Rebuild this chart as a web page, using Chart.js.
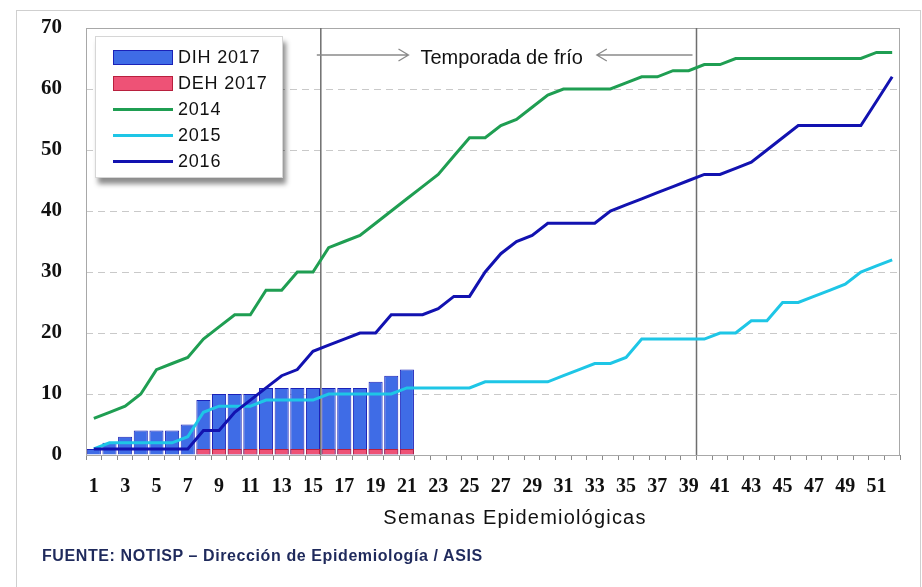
<!DOCTYPE html>
<html lang="es">
<head>
<meta charset="utf-8">
<title>Semanas Epidemiológicas</title>
<script src="https://cdn.jsdelivr.net/npm/chart.js@4.4.1/dist/chart.umd.min.js"></script>
<style>
  body { margin: 0; background: #fff; }
  #wrap { position: relative; width: 922px; height: 587px; overflow: hidden; }
  #marco { position: absolute; left: 16px; top: 10px; width: 903px; height: 600px; border: 1px solid #cfcfcf; }
  #leyenda {
    position: absolute; left: 95px; top: 36px; width: 186px; height: 140px;
    background: #fff; border: 1px solid #d6d6d6;
    box-shadow: 3px 6px 5px rgba(0, 0, 0, 0.45);
  }
  .fila { position: absolute; left: 17px; height: 26px; display: flex; align-items: center; }
  .muestra { width: 60px; margin-right: 5px; box-sizing: border-box; }
  .fila span { font: 18px "Liberation Sans", Arial, sans-serif; letter-spacing: 0.8px; color: #111; }
  #tituloX {
    position: absolute; left: 0; width: 1030px; top: 506px; text-align: center;
    font: 20px "Liberation Sans", Arial, sans-serif; letter-spacing: 1.2px; color: #111;
  }
  #fuente {
    position: absolute; left: 42px; top: 547px;
    font: bold 16px "Liberation Sans", Arial, sans-serif; color: #1f2a5c; letter-spacing: 0.6px;
  }
</style>
</head>
<body>
<div id="wrap">
  <div id="marco"></div>
  <canvas id="grafico"></canvas>
  <div id="leyenda"></div>
  <div id="tituloX">Semanas Epidemiológicas</div>
  <div id="fuente">FUENTE: NOTISP – Dirección de Epidemiología / ASIS</div>
</div>
<script>
// Semanas epidemiológicas (categorías)
const semanas = ["1", "2", "3", "4", "5", "6", "7", "8", "9", "10", "11", "12", "13",
  "14", "15", "16", "17", "18", "19", "20", "21", "22", "23", "24", "25", "26",
  "27", "28", "29", "30", "31", "32", "33", "34", "35", "36", "37", "38", "39",
  "40", "41", "42", "43", "44", "45", "46", "47", "48", "49", "50", "51", "52"];

// Casos acumulados 2017 (barras)
const dih2017 = [1, 2, 3, 4, 4, 4, 5, 9, 10, 10, 10, 11, 11, 11, 11, 11, 11, 11, 12, 13, 14];
const deh2017 = [null, null, null, null, null, null, null, 1, 1, 1, 1, 1, 1, 1, 1, 1, 1, 1, 1, 1, 1];

// Casos acumulados años anteriores (líneas)
const casos2014 = [6, 7, 8, 10, 14, 15, 16, 19, 21, 23, 23, 27, 27, 30, 30, 34, 35, 36, 38, 40,
  42, 44, 46, 49, 52, 52, 54, 55, 57, 59, 60, 60, 60, 60, 61, 62, 62, 63, 63, 64,
  64, 65, 65, 65, 65, 65, 65, 65, 65, 65, 66, 66];
const casos2015 = [1, 2, 2, 2, 2, 2, 3, 7, 8, 8, 8, 9, 9, 9, 9, 10, 10, 10, 10, 10,
  11, 11, 11, 11, 11, 12, 12, 12, 12, 12, 13, 14, 15, 15, 16, 19, 19, 19, 19, 19,
  20, 20, 22, 22, 25, 25, 26, 27, 28, 30, 31, 32];
const casos2016 = [1, 1, 1, 1, 1, 1, 1, 4, 4, 7, 9, 11, 13, 14, 17, 18, 19, 20, 20, 23,
  23, 23, 24, 26, 26, 30, 33, 35, 36, 38, 38, 38, 38, 40, 41, 42, 43, 44, 45, 46,
  46, 47, 48, 50, 52, 54, 54, 54, 54, 54, 58, 62];

// Eje Y
const ticksY = [0, 10, 20, 30, 40, 50, 60, 70];

// Temporada de frío: entre la semana 15/16 y la 39/40
const inicioFrio = 15;
const finFrio = 39;
const textoFrio = "Temporada de frío";

const datasets = [
  { type: "line", label: "2014", data: casos2014, borderColor: "#1f9e52", backgroundColor: "#1f9e52",
    borderWidth: 3, pointRadius: 0, tension: 0, order: 1 },
  { type: "line", label: "2015", data: casos2015, borderColor: "#1ec6e6", backgroundColor: "#1ec6e6",
    borderWidth: 3, pointRadius: 0, tension: 0, order: 2 },
  { type: "line", label: "2016", data: casos2016, borderColor: "#1212b0", backgroundColor: "#1212b0",
    borderWidth: 3, pointRadius: 0, tension: 0, order: 0 },
  { type: "bar", label: "DIH 2017", data: dih2017, backgroundColor: "#3f6ce6", borderColor: "#1b22b8",
    borderWidth: 1, grouped: false, barPercentage: 0.9, categoryPercentage: 1, order: 5 },
  { type: "bar", label: "DEH 2017", data: deh2017, backgroundColor: "#ee5276", borderColor: "#b8203e",
    borderWidth: 1, grouped: false, barPercentage: 0.9, categoryPercentage: 1, order: 4 }
];

// Bordes del área, líneas verticales y flechas de la temporada
const marcas = {
  id: "marcas",
  beforeDatasetsDraw(chart) {
    const { ctx, chartArea: a, scales: { x } } = chart;
    ctx.save();
    ctx.strokeStyle = "#a8a8a8";
    ctx.lineWidth = 1;
    ctx.strokeRect(a.left + 0.5, a.top + 0.5, a.right - a.left - 1, a.bottom - a.top);
    ctx.strokeStyle = "#6e6e6e";
    ctx.lineWidth = 1.5;
    const limite = (s) => (x.getPixelForValue(s - 1) + x.getPixelForValue(s)) / 2;
    const x1 = limite(inicioFrio), x2 = limite(finFrio);
    [x1, x2].forEach((px) => {
      ctx.beginPath();
      ctx.moveTo(px, a.top);
      ctx.lineTo(px, a.bottom);
      ctx.stroke();
    });
    ctx.restore();
  },
  afterDraw(chart) {
    const { ctx, chartArea: a, scales: { x } } = chart;
    const limite = (s) => (x.getPixelForValue(s - 1) + x.getPixelForValue(s)) / 2;
    const x1 = limite(inicioFrio), x2 = limite(finFrio);
    const medio = (x1 + x2) / 2 - 7;
    const y = a.top + 27;
    ctx.save();
    ctx.font = '20px "Liberation Sans", Arial, sans-serif';
    ctx.fillStyle = "#111";
    ctx.textAlign = "center";
    ctx.textBaseline = "middle";
    ctx.fillText(textoFrio, medio, y + 3);
    const w = ctx.measureText(textoFrio).width;
    ctx.strokeStyle = "#8a8a8a";
    ctx.lineWidth = 1.3;
    const fin1 = medio - w / 2 - 12, ini2 = medio + w / 2 + 14;
    ctx.beginPath();
    ctx.moveTo(x1 - 4, y); ctx.lineTo(fin1, y);
    ctx.moveTo(fin1 - 10, y - 6); ctx.lineTo(fin1, y); ctx.lineTo(fin1 - 10, y + 6);
    ctx.moveTo(x2 - 4, y); ctx.lineTo(ini2, y);
    ctx.moveTo(ini2 + 10, y - 6); ctx.lineTo(ini2, y); ctx.lineTo(ini2 + 10, y + 6);
    ctx.stroke();
    ctx.restore();
  }
};

const ctx = document.getElementById("grafico").getContext("2d");
const chart = new Chart(ctx, {
  data: { labels: semanas, datasets: datasets },
  options: {
    responsive: true,
    maintainAspectRatio: false,
    animation: false,
    layout: { padding: { left: 16, right: 22, top: 28, bottom: 0 } },
    plugins: { legend: { display: false }, tooltip: { enabled: false } },
    scales: {
      x: {
        offset: true,
        afterFit: (s) => { s.height = 132; },
        grid: { display: true, drawOnChartArea: false, drawTicks: true, tickLength: 5, offset: true, color: "#8a8a8a" },
        border: { display: true, color: "#8a8a8a" },
        ticks: {
          autoSkip: false, maxRotation: 0, padding: 15, color: "#111",
          font: { family: "Liberation Serif", weight: "bold", size: 20 },
          callback: (v, i) => (i % 2 === 0 ? semanas[i] : "")
        }
      },
      y: {
        min: 0, max: 70,
        afterFit: (s) => { s.width = 70; s.paddingTop = 0; s.paddingBottom = 0; },
        afterBuildTicks: (s) => { s.ticks = ticksY.map((v) => ({ value: v })); },
        grid: {
          drawTicks: false,
          color: (c) => (c.tick.value === 0 || c.tick.value === 70 ? "rgba(0,0,0,0)" : "#c9c9c9"),
          lineWidth: 1
        },
        border: { display: false, dash: [7, 5] },
        ticks: { padding: 24, color: "#111", font: { family: "Liberation Serif", weight: "bold", size: 21 } }
      }
    }
  },
  plugins: [marcas]
});

// Leyenda dentro del área del gráfico
const leyenda = document.getElementById("leyenda");
["DIH 2017", "DEH 2017", "2014", "2015", "2016"].forEach((nombre, i) => {
  const ds = datasets.find((d) => d.label === nombre);
  const fila = document.createElement("div");
  fila.className = "fila";
  fila.style.top = (7 + i * 26) + "px";
  const m = document.createElement("div");
  m.className = "muestra";
  if (ds.type === "bar") {
    m.style.height = "15px";
    m.style.background = ds.backgroundColor;
    m.style.border = "1.5px solid " + ds.borderColor;
  } else {
    m.style.height = "3px";
    m.style.background = ds.borderColor;
  }
  const t = document.createElement("span");
  t.textContent = nombre;
  fila.appendChild(m);
  fila.appendChild(t);
  leyenda.appendChild(fila);
});
</script>
</body>
</html>
